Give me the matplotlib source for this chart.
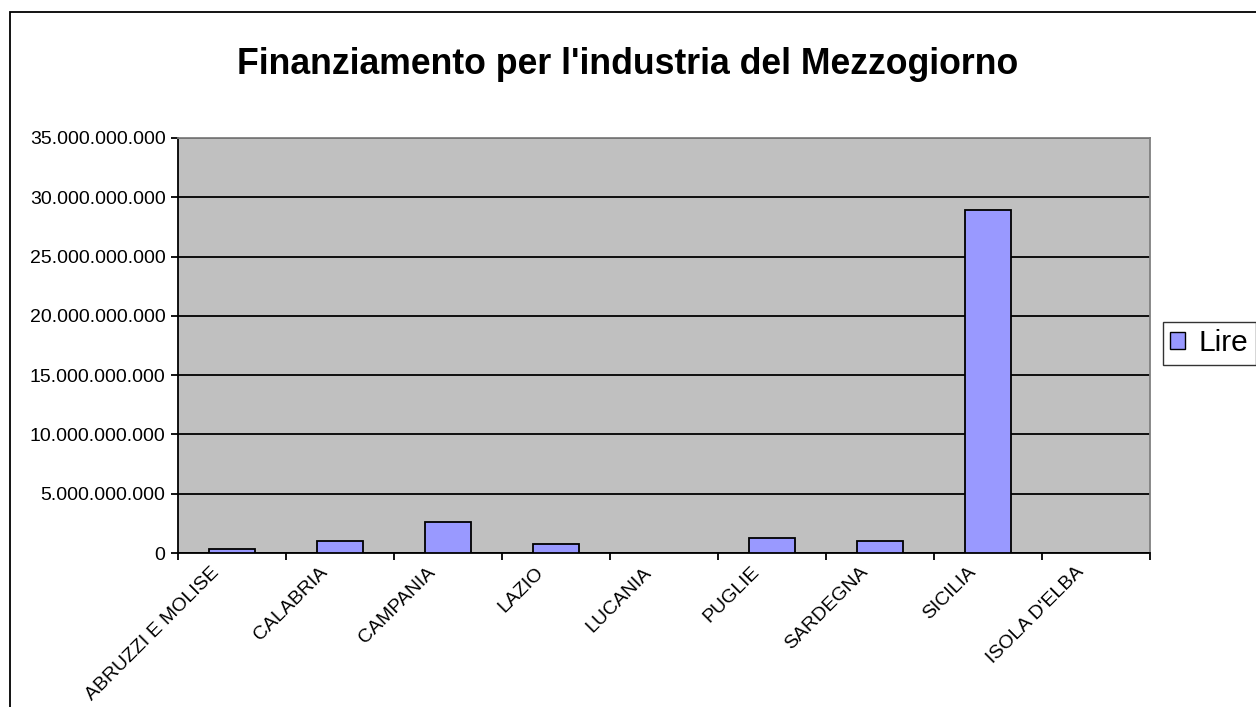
import matplotlib
matplotlib.use('Agg')
import matplotlib.pyplot as plt
import matplotlib.transforms as mtransforms
from matplotlib.patches import Rectangle, Patch
from matplotlib.ticker import FuncFormatter

regioni = ['ABRUZZI E MOLISE', 'CALABRIA', 'CAMPANIA', 'LAZIO', 'LUCANIA',
           'PUGLIE', 'SARDEGNA', 'SICILIA', "ISOLA D'ELBA"]
lire = [0.36e9, 1.04e9, 2.59e9, 0.76e9, 0.0, 1.29e9, 1.04e9, 28.95e9, 0.0]
y_ticks = [0, 5e9, 10e9, 15e9, 20e9, 25e9, 30e9, 35e9]

plt.rcParams['font.family'] = ['Liberation Sans', 'DejaVu Sans']

W, H = 1256, 707
fig = plt.figure(figsize=(W / 100, H / 100), dpi=100)
fig.patch.set_facecolor('white')

# bordo esterno del grafico (tagliato a destra e in basso)
fig.patches.append(Rectangle((10 / W, -0.5), 2, 1 - 12 / H + 0.5,
                             transform=fig.transFigure, fill=False,
                             edgecolor='black', linewidth=1.3))

ax = fig.add_axes([178 / W, (H - 553) / H, 972 / W, 415 / H])
ax.set_facecolor('#C0C0C0')

x = list(range(len(regioni)))
ax.bar(x, lire, width=0.42, color='#9999FF', edgecolor='black',
       linewidth=1.3, zorder=3)

ax.set_xlim(-0.5, len(regioni) - 0.5)
ax.set_ylim(0, 35e9)
ax.set_yticks(y_ticks)
ax.yaxis.set_major_formatter(FuncFormatter(lambda v, p: f"{int(v):,}".replace(',', '.')))
ax.grid(axis='y', color='black', linewidth=1.3, zorder=1)
ax.set_axisbelow(True)

ax.set_xticks([i - 0.5 for i in range(len(regioni) + 1)])
ax.set_xticklabels([])
ax.set_xticks(x, minor=True)
ax.set_xticklabels(regioni, minor=True, rotation=45, ha='right', va='center',
                   rotation_mode='anchor', fontsize=14)
ax.tick_params(axis='x', which='minor', length=0, pad=12)
ax.tick_params(axis='x', which='major', direction='out', length=5, width=1.3)
ax.tick_params(axis='y', direction='out', length=5, width=1.3, labelsize=14, pad=4)

# sposta le etichette un po' a sinistra come in Excel
shift = mtransforms.ScaledTranslation(-15 / 100, 0, fig.dpi_scale_trans)
for lab in ax.get_xticklabels(minor=True):
    lab.set_transform(lab.get_transform() + shift)

for s in ['left', 'bottom']:
    ax.spines[s].set_color('black')
    ax.spines[s].set_linewidth(1.3)
for s in ['top', 'right']:
    ax.spines[s].set_color('#808080')
    ax.spines[s].set_linewidth(1.3)

fig.text(0.5, 1 - 64 / H, "Finanziamento per l'industria del Mezzogiorno",
         ha='center', va='center', fontsize=25.7, fontweight='bold')

leg = fig.legend(handles=[Patch(facecolor='#9999FF', edgecolor='black', label='Lire')],
                 loc='upper left', bbox_to_anchor=(1163 / W, 1 - 322 / H),
                 fontsize=21.5, frameon=True, fancybox=False, borderpad=0.25,
                 handlelength=0.5, handleheight=0.5, handletextpad=0.45,
                 borderaxespad=0)
leg.get_frame().set_edgecolor('black')
leg.get_frame().set_linewidth(1.0)

fig.savefig('out.png', dpi=100)
